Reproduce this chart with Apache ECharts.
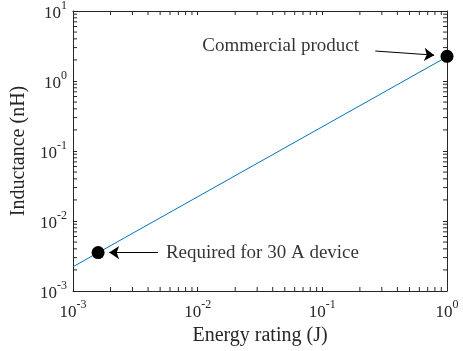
<!DOCTYPE html>
<html>
<head>
<meta charset="utf-8">
<script src="https://cdn.jsdelivr.net/npm/echarts@6/dist/echarts.min.js"></script>
<style>
  html, body { margin: 0; padding: 0; background: #fff; }
  #chart { width: 463px; height: 351px; }
</style>
</head>
<body>
<div id="chart"></div>
<script>
// Inductance scales linearly with energy rating
const fitLine = [[0.001, 0.00222], [1, 2.22]];
// Highlighted operating points
const points = [[0.00159, 0.00354], [1, 2.25]];
// Annotation arrows: [from, to]
const arrows = [
  [[0.0048, 0.00354], [0.00195, 0.00354]],
  [[0.266, 2.68], [0.79, 2.34]]
];
const notes = [
  { text: 'Required for 30 A device', at: [0.00556, 0.00354] },
  { text: 'Commercial product', at: [0.0109, 3.13] }
];
const xRange = [0.001, 1];
const yRange = [0.001, 10];

const FONT = '"Liberation Serif", "Times New Roman", serif';
const AX = '#262626';

function powLabel(v) {
  const e = Math.round(Math.log10(v));
  return '{b|10}{e|' + e + '}';
}
const labelRich = {
  b: { fontFamily: FONT, fontSize: 17, color: AX, verticalAlign: 'bottom', lineHeight: 22 },
  e: { fontFamily: FONT, fontSize: 12, color: AX, verticalAlign: 'top', lineHeight: 22, padding: [0, 0, 9, 0] }
};

// minor tick values 2..9 within each decade
function minorValues(lo, hi) {
  const out = [];
  for (let d = Math.log10(lo); d < Math.log10(hi); d++) {
    for (let k = 2; k <= 9; k++) out.push(k * Math.pow(10, d));
  }
  return out;
}
const xMinor = minorValues(xRange[0], xRange[1]);
const yMinor = minorValues(yRange[0], yRange[1]);

const chart = echarts.init(document.getElementById('chart'));

function tickSeries(vals, horizontal) {
  return {
    type: 'custom',
    silent: true,
    z: 1,
    data: vals.map(v => [v]),
    renderItem(params, api) {
      const v = api.value(0);
      const L = 4;
      let a, b;
      if (horizontal) {
        a = api.coord([v, yRange[0]]);
        b = api.coord([v, yRange[1]]);
        return { type: 'group', children: [
          { type: 'line', shape: { x1: a[0], y1: a[1], x2: a[0], y2: a[1] - L }, style: { stroke: AX, lineWidth: 1 } },
          { type: 'line', shape: { x1: b[0], y1: b[1], x2: b[0], y2: b[1] + L }, style: { stroke: AX, lineWidth: 1 } }
        ]};
      } else {
        a = api.coord([xRange[0], v]);
        b = api.coord([xRange[1], v]);
        return { type: 'group', children: [
          { type: 'line', shape: { x1: a[0], y1: a[1], x2: a[0] + L, y2: a[1] }, style: { stroke: AX, lineWidth: 1 } },
          { type: 'line', shape: { x1: b[0], y1: b[1], x2: b[0] - L, y2: b[1] }, style: { stroke: AX, lineWidth: 1 } }
        ]};
      }
    }
  };
}

const baseAxis = {
  type: 'log',
  logBase: 10,
  axisLine: { show: true, onZero: false, lineStyle: { color: AX, width: 1 } },
  axisTick: { show: true, inside: true, length: 4, lineStyle: { color: AX } },
  splitLine: { show: false },
  minorTick: { show: false },
  nameTextStyle: { fontFamily: FONT, fontSize: 20, color: AX }
};

chart.setOption({
  animation: false,
  grid: { left: 73, right: 16, top: 10, bottom: 60, containLabel: false },
  xAxis: [
    Object.assign({}, baseAxis, {
      min: xRange[0], max: xRange[1], position: 'bottom',
      name: 'Energy rating (J)', nameLocation: 'middle', nameGap: 35,
      axisLabel: { formatter: powLabel, rich: labelRich, margin: 8 }
    }),
    Object.assign({}, baseAxis, {
      min: xRange[0], max: xRange[1], position: 'top',
      axisLabel: { show: false }
    })
  ],
  yAxis: [
    Object.assign({}, baseAxis, {
      min: yRange[0], max: yRange[1], position: 'left',
      name: 'Inductance (nH)', nameLocation: 'middle', nameGap: 37,
      axisLabel: { formatter: powLabel, rich: labelRich, margin: 6 }
    }),
    Object.assign({}, baseAxis, {
      min: yRange[0], max: yRange[1], position: 'right',
      axisLabel: { show: false }
    })
  ],
  series: [
    tickSeries(xMinor, true),
    tickSeries(yMinor, false),
    {
      type: 'line',
      data: fitLine,
      showSymbol: false,
      lineStyle: { color: '#0072BD', width: 1 },
      z: 2
    },
    {
      type: 'lines',
      coordinateSystem: 'cartesian2d',
      data: arrows.map(a => ({ coords: a })),
      symbol: ['none', 'arrow'],
      symbolSize: [0, 10],
      lineStyle: { color: '#000', width: 1, opacity: 1 },
      z: 3
    },
    {
      type: 'scatter',
      data: points,
      symbolSize: 13,
      itemStyle: { color: '#000', opacity: 1 },
      z: 4
    },
    {
      type: 'scatter',
      data: notes.map(n => ({ value: n.at, name: n.text })),
      symbolSize: 0,
      label: {
        show: true,
        position: 'right',
        distance: 0,
        formatter: p => p.name,
        fontFamily: FONT,
        fontSize: 19,
        color: '#000'
      },
      z: 4
    }
  ]
});
</script>
</body>
</html>
